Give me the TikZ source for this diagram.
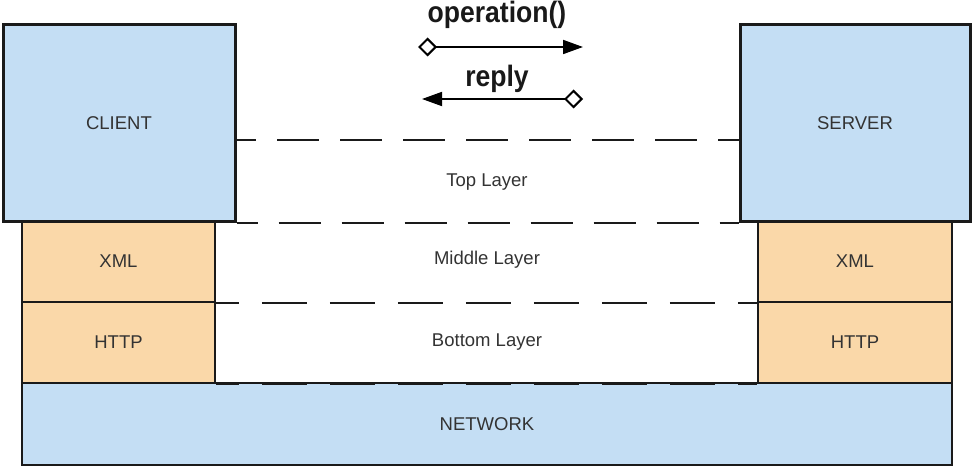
\documentclass[tikz,border=0pt]{standalone}
\usepackage{fontspec}
\setmainfont{Liberation Sans}
\usetikzlibrary{arrows.meta}
\definecolor{boxblue}{HTML}{C4DEF4}
\definecolor{boxorange}{HTML}{FAD8A9}
\definecolor{labelgray}{HTML}{333333}
\definecolor{linegray}{HTML}{1A1A1A}
\tikzset{
  lbl/.style={font=\fontsize{18.5}{22}\selectfont, text=labelgray},
  bluebig/.style={draw=linegray, fill=boxblue, line width=3pt, inner sep=0pt, lbl},
  orangebox/.style={draw=linegray, fill=boxorange, line width=1.8pt, inner sep=0pt, lbl},
  netbox/.style={draw=linegray, fill=boxblue, line width=1.8pt, inner sep=0pt, lbl},
  layerline/.style={draw=linegray, line width=2pt, dash pattern=on 42pt off 21pt, dash phase=21pt},
  layerlineb/.style={draw=linegray, line width=2pt, dash pattern=on 45pt off 23pt, dash phase=22pt},
  msg/.style={draw=black, line width=1.8pt, {Diamond[open,fill=white,length=19pt,width=19pt,line width=2pt]}-{Triangle[length=20pt,width=14pt]}},
  title/.style={font=\bfseries\fontsize{29.5}{34}\selectfont, text=black!90, anchor=base}
}
\begin{document}
\begin{tikzpicture}[x=1pt,y=-1pt]
\useasboundingbox (0,0) rectangle (974,468);
\fill[white] (0,0) rectangle (974,468);
% network
\node[netbox, minimum width=930pt, minimum height=82pt] (net) at (487,424) {NETWORK};
% orange stacks
\node[orangebox, minimum width=193pt, minimum height=81pt] (xmlL) at (118.5,261.5) {XML};
\node[orangebox, minimum width=193pt, minimum height=81pt] (httpL) at (118.5,342.5) {HTTP};
\node[orangebox, minimum width=194pt, minimum height=81pt] (xmlR) at (855,261.5) {XML};
\node[orangebox, minimum width=194pt, minimum height=81pt] (httpR) at (855,342.5) {HTTP};
% client / server
\node[bluebig, minimum width=232pt, minimum height=196pt] (client) at (119,123) {CLIENT};
\node[bluebig, minimum width=230pt, minimum height=196pt] (server) at (855,123) {SERVER};
% layer lines
\coordinate (topL) at (235,140);
\coordinate (topR) at (740,140);
\draw[layerline] (topL) -- (topR);
\draw[layerline] (client.south east) -- (server.south west);
\draw[layerlineb] (xmlL.south east) -- (xmlR.south west);
\draw[layerlineb] (httpL.south east) -- (httpR.south west);
% layer labels
\node[lbl] (toplayer) at (487,182) {Top Layer};
\node[lbl] (midlayer) at (487,260) {Middle Layer};
\node[lbl] (botlayer) at (487,342) {Bottom Layer};
% messages
\node[title] (op) at (497,23) {\scalebox{0.9}[1]{operation()}};
\node[title] (rep) at (497,87) {\scalebox{0.9}[1]{reply}};
\coordinate (opS) at (418,47);
\coordinate (opE) at (583,47);
\coordinate (repS) at (583,99);
\coordinate (repE) at (422,99);
\draw[msg] (opS) -- (opE);
\draw[msg] (repS) -- (repE);
\end{tikzpicture}
\end{document}
